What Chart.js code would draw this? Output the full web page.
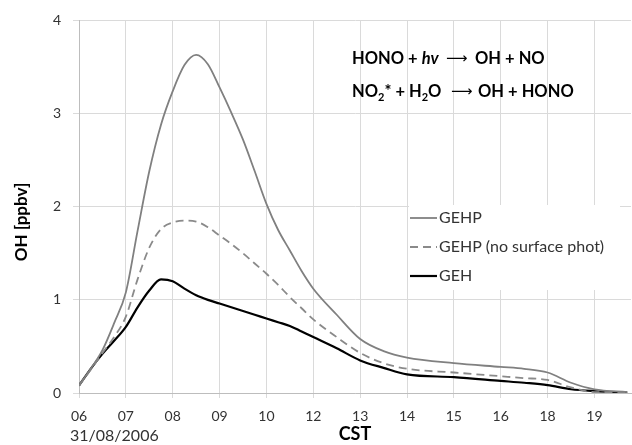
<!DOCTYPE html>
<html>
<head>
<meta charset="utf-8">
<script src="https://cdn.jsdelivr.net/npm/chart.js@4.4.1/dist/chart.umd.min.js"></script>
<style>
  body { margin: 0; background: #fff; }
</style>
</head>
<body>
<canvas id="ohChart" width="632" height="445"></canvas>
<script>
// hour labels on the category axis (11 and 17 are skipped in the original)
const hourLabels = ['06', '07', '08', '09', '10', '12', '13', '14', '15', '16', '18', '19'];
const dateLabel = '31/08/2006';

// position along the axis, in label steps from "06"
const hourPos = [0, 0.25, 0.5, 0.75, 1, 1.25, 1.5, 1.75, 2, 2.25, 2.5, 2.75, 3, 3.25, 3.5, 3.75, 4, 4.25, 4.5, 4.75, 5, 5.5, 6, 6.5, 7, 8, 9, 9.5, 10, 10.5, 11, 11.7];

// OH [ppbv]
const gehp = [0.08, 0.26, 0.46, 0.75, 1.08, 1.74, 2.38, 2.88, 3.24, 3.52, 3.63, 3.53, 3.28, 3.01, 2.72, 2.38, 2.03, 1.75, 1.53, 1.31, 1.12, 0.84, 0.58, 0.45, 0.38, 0.32, 0.28, 0.26, 0.22, 0.11, 0.04, 0.01];
const gehpNoSurf = [0.08, 0.25, 0.43, 0.6, 0.82, 1.22, 1.56, 1.76, 1.83, 1.85, 1.84, 1.78, 1.69, 1.6, 1.5, 1.39, 1.28, 1.16, 1.03, 0.91, 0.79, 0.6, 0.43, 0.32, 0.26, 0.22, 0.18, 0.16, 0.14, 0.06, 0.01, 0.01];
const geh = [0.08, 0.26, 0.42, 0.56, 0.71, 0.92, 1.1, 1.22, 1.2, 1.12, 1.05, 1.0, 0.96, 0.92, 0.88, 0.84, 0.8, 0.76, 0.72, 0.66, 0.6, 0.48, 0.35, 0.27, 0.2, 0.17, 0.13, 0.11, 0.085, 0.04, 0.02, 0.005];

const FONT = 'Lato, "Open Sans", sans-serif';

const toPoints = (vals) => vals.map((v, i) => ({ x: hourPos[i], y: v }));

// draws text pieces one after another (for subscripts / italics)
function drawPieces(ctx, x, y, pieces) {
  let cx = x;
  pieces.forEach(p => {
    if (p.at !== undefined) cx = p.at;
    ctx.font = p.font;
    ctx.fillText(p.t, cx, y + (p.dy || 0));
    cx += ctx.measureText(p.t).width;
  });
}

const extrasPlugin = {
  id: 'extras',
  afterDraw(chart) {
    const ctx = chart.ctx;
    const b = '700 16.5px ' + FONT;
    const bi = 'italic 700 16.5px ' + FONT;
    const ar = '400 15px "DejaVu Sans", sans-serif';
    const sub = '700 11px ' + FONT;
    ctx.save();
    ctx.fillStyle = '#000';
    ctx.textBaseline = 'middle';
    ctx.textAlign = 'left';

    // reaction equations
    drawPieces(ctx, 352, 59, [
      { t: 'HONO + ', font: b }, { t: 'hv', font: bi },
      { t: '\u27F6', font: ar, at: 446 }, { t: 'OH + NO', font: b, at: 475 }
    ]);
    drawPieces(ctx, 352, 92, [
      { t: 'NO', font: b }, { t: '2', font: sub, dy: 5 },
      { t: '* + H', font: b }, { t: '2', font: sub, dy: 5 },
      { t: 'O', font: b }, { t: '\u27F6', font: ar, at: 451 },
      { t: 'OH + HONO', font: b, at: 478 }
    ]);

    // date under the first tick
    ctx.fillStyle = '#333';
    ctx.font = '400 16px ' + FONT;
    ctx.fillText(dateLabel, 70, 436);

    // y axis title
    ctx.save();
    ctx.translate(22, 222);
    ctx.rotate(-Math.PI / 2);
    ctx.textAlign = 'center';
    ctx.fillStyle = '#000';
    ctx.font = '700 17px ' + FONT;
    ctx.fillText('OH [ppbv]', 0, 0);
    ctx.restore();

    // legend box
    ctx.fillStyle = '#fff';
    ctx.fillRect(409, 205, 211, 85);
    ctx.font = '400 16px ' + FONT;
    chart.data.datasets.forEach((ds, i) => {
      const ly = 218 + i * 29;
      ctx.strokeStyle = ds.borderColor;
      ctx.lineWidth = ds.borderWidth;
      ctx.setLineDash(ds.borderDash || []);
      ctx.beginPath();
      ctx.moveTo(410, ly);
      ctx.lineTo(437, ly);
      ctx.stroke();
      ctx.setLineDash([]);
      ctx.fillStyle = '#333';
      ctx.fillText(ds.label, 439, ly);
    });
    ctx.restore();
  }
};

new Chart(document.getElementById('ohChart'), {
  type: 'line',
  data: {
    datasets: [
      {
        label: 'GEHP',
        data: toPoints(gehp),
        borderColor: '#808080',
        borderWidth: 1.8,
        pointRadius: 0,
        cubicInterpolationMode: 'monotone'
      },
      {
        label: 'GEHP (no surface phot)',
        data: toPoints(gehpNoSurf),
        borderColor: '#8a8a8a',
        borderWidth: 1.8,
        borderDash: [8, 5],
        pointRadius: 0,
        cubicInterpolationMode: 'monotone'
      },
      {
        label: 'GEH',
        data: toPoints(geh),
        borderColor: '#000',
        borderWidth: 2.2,
        pointRadius: 0,
        cubicInterpolationMode: 'monotone'
      }
    ]
  },
  options: {
    responsive: false,
    animation: false,
    layout: { padding: { top: 19, right: 1, left: 0, bottom: 0 } },
    plugins: {
      legend: { display: false },
      tooltip: { enabled: false }
    },
    scales: {
      x: {
        type: 'linear',
        min: 0,
        max: 11.78,
        afterBuildTicks: (scale) => {
          scale.ticks = hourLabels.map((l, i) => ({ value: i }));
        },
        afterFit: (scale) => { scale.height = 52; },
        ticks: {
          autoSkip: false,
          maxRotation: 0,
          padding: 10,
          color: '#333',
          font: { family: FONT, size: 14 },
          callback: (v) => hourLabels[v] ?? ''
        },
        grid: { color: '#dadada', tickLength: 5 },
        border: { color: '#bdbdbd' },
        title: {
          display: true,
          text: 'CST',
          color: '#000',
          font: { family: FONT, size: 18, weight: 'bold' },
          padding: { top: 0, bottom: 0 }
        }
      },
      y: {
        min: 0,
        max: 4,
        afterFit: (scale) => { scale.width = 79; },
        ticks: {
          stepSize: 1,
          padding: 12,
          color: '#333',
          font: { family: FONT, size: 14 }
        },
        grid: { color: '#dadada', tickLength: 6 },
        border: { color: '#bdbdbd' }
      }
    }
  },
  plugins: [extrasPlugin]
});
</script>
</body>
</html>
